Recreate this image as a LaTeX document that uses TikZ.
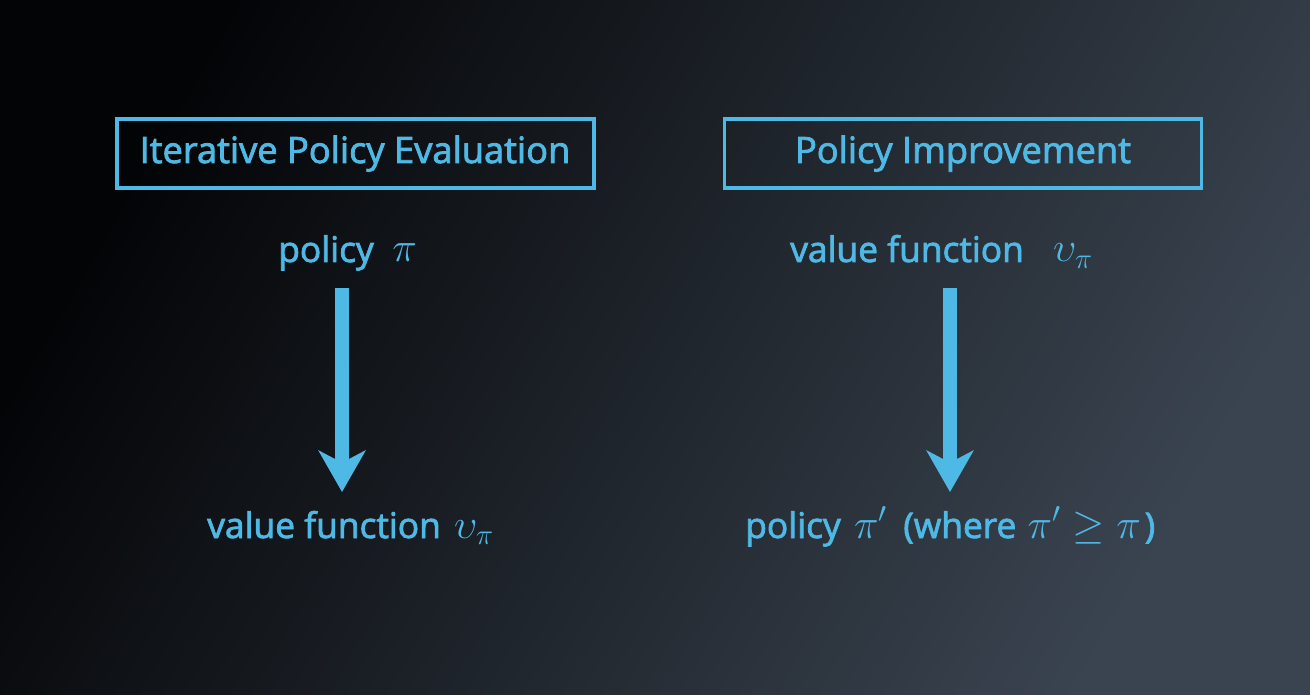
\documentclass[tikz,border=0pt]{standalone}
\usepackage{graphicx}
\usepackage{fontspec}
\setmainfont{Open Sans}[FakeBold=2.2]
\usetikzlibrary{arrows.meta}
\definecolor{txt}{RGB}{79,185,230}
\definecolor{bgA}{RGB}{3,4,6}
\definecolor{bgB}{RGB}{58,68,80}
\newcommand{\bm}[1]{\scalebox{1.25}{$#1$}}
\tikzset{
  lbl/.style={anchor=base west, inner sep=0pt, text=txt, font=\fontsize{26.5}{32}\selectfont},
  titlebox/.style={draw=txt, line width=2.6pt, minimum width=358pt, minimum height=52pt, inner sep=0pt},
  ttl/.style={anchor=base, inner sep=0pt, text=txt, font=\fontsize{27.2}{32}\selectfont},
  bigarrow/.style={draw=txt, line width=11pt, -{Stealth[length=31pt, width=35pt, inset=9pt]}},
}
\begin{document}
\begin{tikzpicture}[x=0.75pt, y=-0.75pt]
\useasboundingbox (0,0) rectangle (1310,695);
\shade[shading=axis, left color=bgA, right color=bgB, shading angle=60] (0,0) rectangle (1310,695);
% title boxes
\node[titlebox] (b1) at (355.5,153.5) {};
\node[ttl] (t1) at (355,163) {Iterative Policy Evaluation};
\node[titlebox] (b2) at (963,153.5) {};
\node[ttl] (t2) at (963,163) {Policy Improvement};
% labels
\node[lbl] (p1) at (278,262) {policy\hspace{14pt}\bm{\pi}};
\node[lbl] (v2) at (790,262) {value function\hspace{22pt}\bm{\upsilon_\pi}};
\node[lbl] (v1) at (207,538) {value function\hspace{10pt}\bm{\upsilon_\pi}};
\node[lbl] (p2) at (745,538) {policy\hspace{10pt}\bm{\pi'}\hspace{12pt}(where\hspace{8.5pt}\bm{\pi'\geq\pi}\hspace{3pt})};
% arrows
\coordinate (a1s) at (342,288);
\coordinate (a1e) at (342,492);
\coordinate (a2s) at (950,288);
\coordinate (a2e) at (950,492);
\draw[bigarrow] (a1s) -- (a1e);
\draw[bigarrow] (a2s) -- (a2e);
\end{tikzpicture}
\end{document}
